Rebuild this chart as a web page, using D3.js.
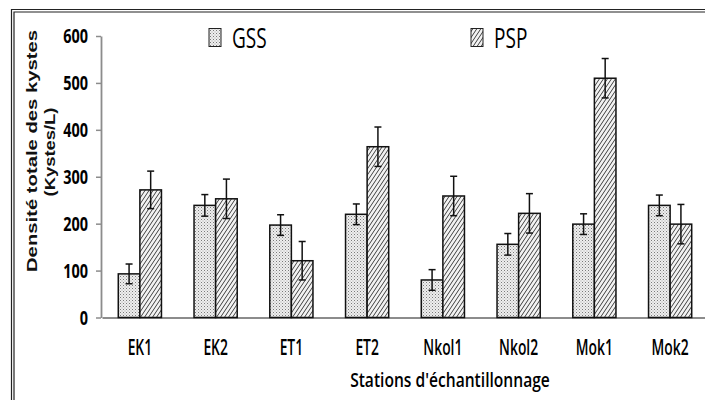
<!DOCTYPE html>
<meta charset="utf-8">
<script src="https://d3js.org/d3.v7.min.js"></script>
<style>
  body { margin: 0; background: #fff; }
</style>
<div id="chart"></div>
<script>

// data
var stations = ["EK1", "EK2", "ET1", "ET2", "Nkol1", "Nkol2", "Mok1", "Mok2"];
var series = ["GSS", "PSP"];
var gss = [93, 239, 197, 220, 80, 156, 199, 239];
var gssErr = [21, 23, 22, 22, 22, 23, 22, 22];
var psp = [272, 253, 121, 364, 259, 222, 510, 199];
var pspErr = [40, 42, 41, 42, 42, 42, 42, 42];
var yTicks = [0, 100, 200, 300, 400, 500, 600];

var width = 705, height = 400;

var svg = d3.select("#chart")
  .append("svg")
    .attr("width", width)
    .attr("height", height);

svg.append("rect")
  .attr("width", width).attr("height", height)
  .attr("fill", "white");

// fill patterns
var defs = svg.append("defs");
var dots = defs.append("pattern")
  .attr("id", "dots")
  .attr("patternUnits", "userSpaceOnUse")
  .attr("width", 3).attr("height", 3);
dots.append("rect").attr("width", 3).attr("height", 3).attr("fill", "#eeeeee");
dots.append("rect").attr("x", 0).attr("y", 0).attr("width", 1).attr("height", 1).attr("fill", "#7a7a7a");
dots.append("rect").attr("x", 1.5).attr("y", 1.5).attr("width", 1).attr("height", 1).attr("fill", "#a8a8a8");

var hatch = defs.append("pattern")
  .attr("id", "hatch")
  .attr("patternUnits", "userSpaceOnUse")
  .attr("width", 4).attr("height", 6);
hatch.append("rect").attr("width", 4).attr("height", 6).attr("fill", "#f2f2f2");
hatch.append("path")
  .attr("d", "M0,6 L4,0 M-1,1.5 L1,-1.5 M3,7.5 L5,4.5")
  .attr("stroke", "#2a2a2a")
  .attr("stroke-width", 0.9);

// double frame (only left and top edges fall inside the picture)
[[11.5, 9.5], [14, 12]].forEach(function(p) {
  svg.append("path")
    .attr("d", "M" + p[0] + "," + height + " V" + p[1] + " H" + width)
    .attr("fill", "none").attr("stroke", "#222").attr("stroke-width", 1.2);
});

// squeeze text horizontally like the stretched original
function squeeze(sel, k) {
  sel.each(function() {
    var w = this.getComputedTextLength();
    d3.select(this)
      .attr("textLength", w * k)
      .attr("lengthAdjust", "spacingAndGlyphs");
  });
}

// scales
var x = d3.scaleBand()
  .domain(stations)
  .range([102, 708]);
var y = d3.scaleLinear()
  .domain([0, 600])
  .range([317.5, 36]);
var barW = x.bandwidth() * 0.285;

// Y axis
var yAxis = svg.append("g")
  .attr("transform", "translate(101,0)")
  .call(d3.axisLeft(y).tickValues(yTicks).tickSize(5).tickSizeOuter(0));
yAxis.select(".domain").attr("stroke", "#8c8c8c").attr("stroke-width", 1.8);
yAxis.selectAll(".tick line").attr("stroke", "#8c8c8c").attr("stroke-width", 1.5);
yAxis.selectAll(".tick text")
  .attr("x", -13)
  .attr("dy", "0.36em")
  .attr("fill", "#000")
  .style("font-family", "'Open Sans', sans-serif")
  .style("font-weight", "bold")
  .style("font-size", "19px")
  .call(squeeze, 0.76);

// X axis
var xAxis = svg.append("g")
  .attr("transform", "translate(0," + y(0) + ")")
  .call(d3.axisBottom(x).tickSize(0).tickSizeOuter(0).tickFormat(""));
xAxis.select(".domain").attr("stroke", "#8c8c8c").attr("stroke-width", 1.8);

// category labels: narrowed with a scale transform
svg.append("g")
  .selectAll("text")
  .data(stations)
  .enter()
  .append("text")
    .attr("transform", function(d) {
      return "translate(" + (x(d) + x.bandwidth() / 2) + ",355) scale(0.66,1)";
    })
    .attr("text-anchor", "middle")
    .attr("fill", "#000")
    .style("font-family", "'Open Sans', sans-serif")
    .style("font-weight", "600")
    .style("font-size", "21px")
    .text(function(d) { return d; });

// bars
var data = [gss, psp];
var errs = [gssErr, pspErr];
var fills = ["url(#dots)", "url(#hatch)"];

series.forEach(function(s, i) {
  var g = svg.append("g").attr("class", "series-" + s);
  var rows = stations.map(function(st, j) {
    return {station: st, value: data[i][j], err: errs[i][j]};
  });
  var bx = function(d) { return x(d.station) + x.bandwidth() / 2 + (i - 1) * barW; };

  g.selectAll("rect")
    .data(rows)
    .enter()
    .append("rect")
      .attr("x", bx)
      .attr("y", function(d) { return y(d.value); })
      .attr("width", barW)
      .attr("height", function(d) { return y(0) - y(d.value); })
      .attr("fill", fills[i])
      .attr("stroke", "#111")
      .attr("stroke-width", 1.5);

  // error bars
  var eb = g.selectAll(".err")
    .data(rows)
    .enter()
    .append("g")
      .attr("class", "err")
      .attr("stroke", "#111")
      .attr("stroke-width", 1.5);
  eb.append("line")
    .attr("x1", function(d) { return bx(d) + barW / 2; })
    .attr("x2", function(d) { return bx(d) + barW / 2; })
    .attr("y1", function(d) { return y(d.value + d.err); })
    .attr("y2", function(d) { return y(d.value - d.err); });
  [1, -1].forEach(function(sign) {
    eb.append("line")
      .attr("x1", function(d) { return bx(d) + barW / 2 - 3.5; })
      .attr("x2", function(d) { return bx(d) + barW / 2 + 3.5; })
      .attr("y1", function(d) { return y(d.value + sign * d.err); })
      .attr("y2", function(d) { return y(d.value + sign * d.err); });
  });
});

// legend
var legendX = [209, 471];
series.forEach(function(s, i) {
  svg.append("rect")
    .attr("x", legendX[i]).attr("y", 28.5)
    .attr("width", 12).attr("height", 18)
    .attr("fill", fills[i])
    .attr("stroke", "#222")
    .attr("stroke-width", 1);
  svg.append("text")
    .attr("x", legendX[i] + 23)
    .attr("y", 48)
    .attr("fill", "#000")
    .style("font-family", "'Open Sans', sans-serif")
    .style("font-weight", "500")
    .style("font-size", "28px")
    .text(s)
    .call(squeeze, 0.68);
});

// axis titles
svg.append("text")
  .attr("x", 450)
  .attr("y", 387)
  .attr("text-anchor", "middle")
  .attr("fill", "#000")
  .style("font-family", "'Open Sans', sans-serif")
  .style("font-weight", "600")
  .style("font-size", "19.5px")
  .text("Stations d'échantillonnage")
  .call(squeeze, 0.8);

var yTitle = svg.append("g")
  .attr("fill", "#111")
  .style("font-family", "'Liberation Sans', Arial, sans-serif")
  .style("font-weight", "bold")
  .style("font-size", "15px")
  .attr("text-anchor", "middle");
yTitle.append("text")
  .attr("transform", "translate(37,151) rotate(-90)")
  .attr("textLength", 242)
  .attr("lengthAdjust", "spacingAndGlyphs")
  .text("Densité totale des kystes");
yTitle.append("text")
  .attr("transform", "translate(55,152) rotate(-90)")
  .attr("textLength", 89)
  .attr("lengthAdjust", "spacingAndGlyphs")
  .text("(Kystes/L)");

</script>
